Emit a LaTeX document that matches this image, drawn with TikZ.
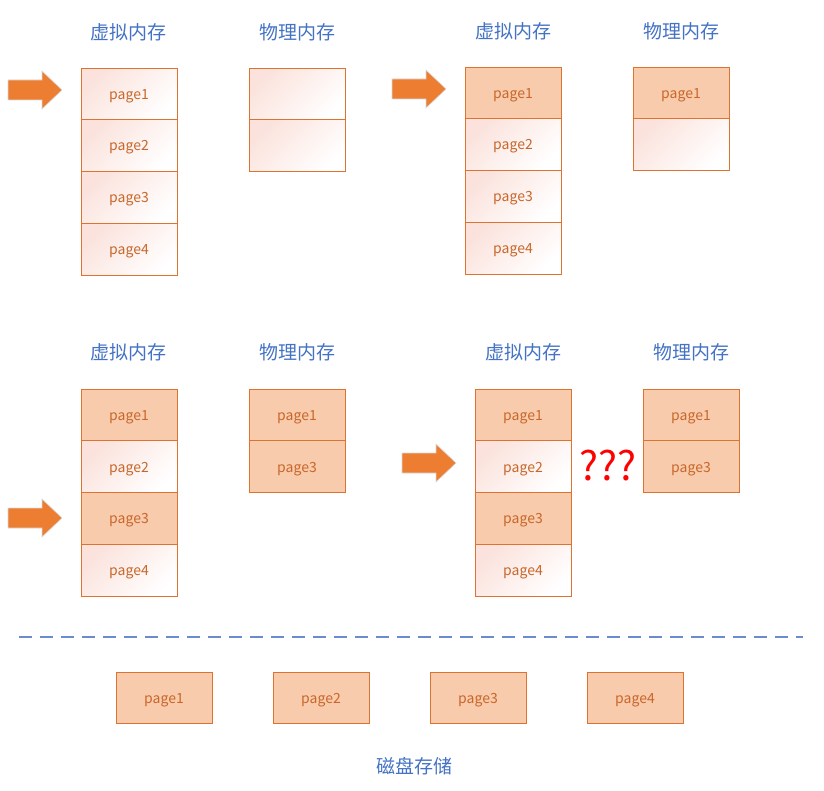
\documentclass[tikz,border=0pt]{standalone}
\usepackage{fontspec}
\setmainfont{Noto Sans CJK SC}
\usetikzlibrary{positioning}
\definecolor{pagefill}{HTML}{F8CBAD}
\definecolor{pageline}{HTML}{DE7230}
\definecolor{pagetext}{HTML}{C9672A}
\definecolor{pagepink}{HTML}{FBE2DC}
\definecolor{titleblue}{HTML}{4472C4}
\definecolor{arrowfill}{HTML}{ED7D31}
\definecolor{dashblue}{HTML}{6A8CCF}
\tikzstyle{page} = [draw=pageline, line width=1pt, minimum width=96pt, minimum height=51.75pt, inner sep=0pt, outer sep=0pt, text height=13.5pt, text depth=3pt, text=pagetext, font=\fontsize{14}{16}\selectfont]
\tikzstyle{usedpage} = [page, fill=pagefill]
\tikzstyle{freepage} = [page, top color=pagepink, bottom color=white, shading angle=45]
\tikzstyle{title} = [text=titleblue, font=\fontsize{19}{22}\selectfont]
\tikzstyle{pointer} = [fill=arrowfill, draw=gray!30, line width=0.6pt]

\begin{document}
\begin{tikzpicture}[x=1pt,y=-1pt]
\useasboundingbox (0,0) rectangle (824,791);

% step 1: nothing loaded
\node[title] (t1v) at (128,32) {虚拟内存};
\node[title] (t1p) at (297,32) {物理内存};
\node[freepage] (a1) at (129,94) {page1};
\node[freepage, below=0pt of a1] (a2) {page2};
\node[freepage, below=0pt of a2] (a3) {page3};
\node[freepage, below=0pt of a3] (a4) {page4};
\node[freepage] (ap1) at (297,94) {};
\node[freepage, below=0pt of ap1] (ap2) {};
\draw[pointer] (8,90) ++(0,-10) -- ++(34,0) -- ++(0,-9) -- ++(20,19) -- ++(-20,19) -- ++(0,-9) -- ++(-34,0) -- cycle;

% step 2: page1 loaded
\node[title] (t2v) at (513,31) {虚拟内存};
\node[title] (t2p) at (681,31) {物理内存};
\node[usedpage] (b1) at (513,93) {page1};
\node[freepage, below=0pt of b1] (b2) {page2};
\node[freepage, below=0pt of b2] (b3) {page3};
\node[freepage, below=0pt of b3] (b4) {page4};
\node[usedpage] (bp1) at (681,93) {page1};
\node[freepage, below=0pt of bp1] (bp2) {};
\draw[pointer] (392,89) ++(0,-10) -- ++(34,0) -- ++(0,-9) -- ++(20,19) -- ++(-20,19) -- ++(0,-9) -- ++(-34,0) -- cycle;

% step 3: page3 loaded
\node[title] (t3v) at (128,352) {虚拟内存};
\node[title] (t3p) at (297,352) {物理内存};
\node[usedpage] (c1) at (129,415) {page1};
\node[freepage, below=0pt of c1] (c2) {page2};
\node[usedpage, below=0pt of c2] (c3) {page3};
\node[freepage, below=0pt of c3] (c4) {page4};
\node[usedpage] (cp1) at (297,415) {page1};
\node[usedpage, below=0pt of cp1] (cp2) {page3};
\draw[pointer] (8,518) ++(0,-10) -- ++(34,0) -- ++(0,-9) -- ++(20,19) -- ++(-20,19) -- ++(0,-9) -- ++(-34,0) -- cycle;

% step 4: page2 wanted, memory full
\node[title] (t4v) at (523,352) {虚拟内存};
\node[title] (t4p) at (691,352) {物理内存};
\node[usedpage] (d1) at (523,415) {page1};
\node[freepage, below=0pt of d1] (d2) {page2};
\node[usedpage, below=0pt of d2] (d3) {page3};
\node[freepage, below=0pt of d3] (d4) {page4};
\node[usedpage] (dp1) at (691,415) {page1};
\node[usedpage, below=0pt of dp1] (dp2) {page3};
\draw[pointer] (402,463) ++(0,-10) -- ++(34,0) -- ++(0,-9) -- ++(20,19) -- ++(-20,19) -- ++(0,-9) -- ++(-34,0) -- cycle;
\node[text=red, font=\fontsize{40}{44}\selectfont] (ask) at (608,466) {???};

% disk
\draw[dashblue, line width=1.5pt, dash pattern=on 13pt off 8pt] (19,637) -- (803,637);
\node[usedpage] (e1) at (164,698) {page1};
\node[usedpage] (e2) at (321,698) {page2};
\node[usedpage] (e3) at (478,698) {page3};
\node[usedpage] (e4) at (635,698) {page4};
\node[title] (t5) at (414,766) {磁盘存储};
\end{tikzpicture}
\end{document}
